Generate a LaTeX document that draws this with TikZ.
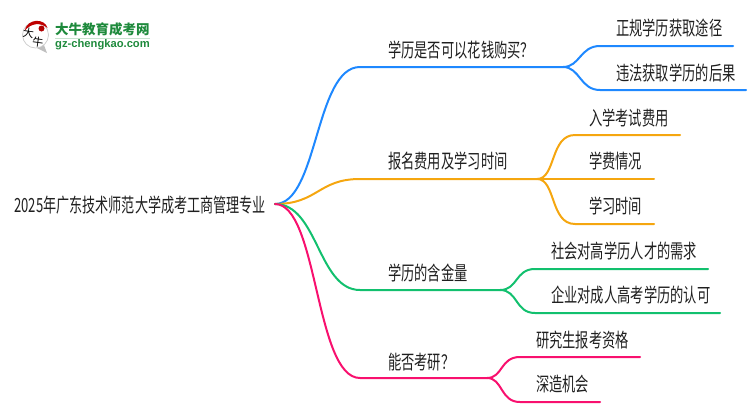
\documentclass[tikz,border=0pt]{standalone}
\usepackage{fontspec}
\setmainfont{Liberation Sans}
\newfontfamily\cjk[FakeStretch=0.68]{Noto Sans CJK SC}
\newfontfamily\cjkroot[FakeStretch=0.672]{Noto Sans CJK SC}
\newfontfamily\cjklogo{Noto Sans CJK SC}
\begin{document}
\begin{tikzpicture}[x=1pt,y=-1pt,
  lbl/.style={anchor=base west,inner sep=0pt,font=\cjk\fontsize{19.5}{21}\selectfont,text=black!88},
  wire/.style={line width=2pt,line cap=round}]
\useasboundingbox (0,0) rectangle (750,410);
\definecolor{cblue}{HTML}{1E88FF}
\definecolor{corange}{HTML}{F5A60F}
\definecolor{cgreen}{HTML}{12C06E}
\definecolor{cpink}{HTML}{F8106E}
\definecolor{lgreen}{HTML}{1E8A3C}
% logo
\fill[black!25] (37,48) -- (47,53) -- (44,45) -- cycle;
\draw[black!20,fill=white,line width=.7pt] (35.5,35) circle (13);
\fill[red!75!black] (24.5,31) .. controls (27,18) and (45,18) .. (47.5,28) .. controls (40,22) and (31,23) .. (24.5,31) -- cycle;
\fill[red!70!black] (41.5,28.5) circle (3);
\node[inner sep=0pt,font=\cjklogo\fontsize{11}{11}\selectfont,rotate=-8] (lg1) at (28.5,33) {大};
\node[inner sep=0pt,font=\cjklogo\fontsize{11}{11}\selectfont,rotate=-8] (lg2) at (38,42) {牛};
\node[inner sep=0pt,font=\cjklogo\bfseries\fontsize{13.5}{14}\selectfont,text=lgreen,anchor=west] (lg3) at (55,29) {大牛教育成考网};
\node[inner sep=0pt,font=\fontsize{11.2}{12}\selectfont\bfseries,text=lgreen,anchor=west] (lg4) at (55,44.5) {gz-chengkao.com};
\fill[lgreen!25] (55,37.5) rectangle (150,38.3);
% coordinates
\coordinate (r) at (275,204);
\coordinate (a) at (360,67); \coordinate (ae) at (563,67);
\coordinate (b) at (360,179); \coordinate (be) at (537,179);
\coordinate (c) at (360,290); \coordinate (ce) at (500,290);
\coordinate (d) at (360,378); \coordinate (de) at (487,378);
\coordinate (a1) at (600,46); \coordinate (a1e) at (733,46);
\coordinate (a2) at (600,90); \coordinate (a2e) at (746,90);
\coordinate (b1) at (575,135); \coordinate (b1e) at (680,135);
\coordinate (b2) at (575,179); \coordinate (b2e) at (654,179);
\coordinate (b3) at (575,224); \coordinate (b3e) at (654,224);
\coordinate (c1) at (535,269); \coordinate (c1e) at (708,269);
\coordinate (c2) at (535,313); \coordinate (c2e) at (720,313);
\coordinate (d1) at (520,357); \coordinate (d1e) at (640,357);
\coordinate (d2) at (520,402); \coordinate (d2e) at (600,402);
% connectors
\draw[wire,cblue] (r) .. controls (318,204) and (315,67) .. (a) -- (ae);
\draw[wire,cblue] (ae) .. controls (580,67) and (580,46) .. (a1) -- (a1e);
\draw[wire,cblue] (ae) .. controls (580,67) and (580,90) .. (a2) -- (a2e);
\draw[wire,corange] (r) .. controls (318,204) and (318,179) .. (b) -- (be);
\draw[wire,corange] (be) .. controls (556,179) and (550,135) .. (b1) -- (b1e);
\draw[wire,corange] (be) -- (b2) -- (b2e);
\draw[wire,corange] (be) .. controls (556,179) and (550,224) .. (b3) -- (b3e);
\draw[wire,cgreen] (r) .. controls (318,204) and (318,290) .. (c) -- (ce);
\draw[wire,cgreen] (ce) .. controls (518,290) and (515,269) .. (c1) -- (c1e);
\draw[wire,cgreen] (ce) .. controls (518,290) and (515,313) .. (c2) -- (c2e);
\draw[wire,cpink] (r) .. controls (318,204) and (315,378) .. (d) -- (de);
\draw[wire,cpink] (de) .. controls (503,378) and (500,357) .. (d1) -- (d1e);
\draw[wire,cpink] (de) .. controls (503,378) and (500,402) .. (d2) -- (d2e);
% labels
\node[lbl,font=\cjkroot\fontsize{19.5}{21}\selectfont] (tr) at (14,212.5) {2025年广东技术师范大学成考工商管理专业};
\node[lbl] (ta) at (388,57.5) {学历是否可以花钱购买？};
\node[lbl] (tb) at (388,168.5) {报名费用及学习时间};
\node[lbl] (tc) at (388,280) {学历的含金量};
\node[lbl] (td) at (388,369.5) {能否考研？};
\node[lbl] (ta1) at (616,35.5) {正规学历获取途径};
\node[lbl] (ta2) at (616,80.5) {违法获取学历的后果};
\node[lbl] (tb1) at (589,125) {入学考试费用};
\node[lbl] (tb2) at (589,168.5) {学费情况};
\node[lbl] (tb3) at (589,213.5) {学习时间};
\node[lbl] (tc1) at (551,258.5) {社会对高学历人才的需求};
\node[lbl] (tc2) at (551,302.5) {企业对成人高考学历的认可};
\node[lbl] (td1) at (536,347.5) {研究生报考资格};
\node[lbl] (td2) at (536,391.5) {深造机会};
\end{tikzpicture}
\end{document}
